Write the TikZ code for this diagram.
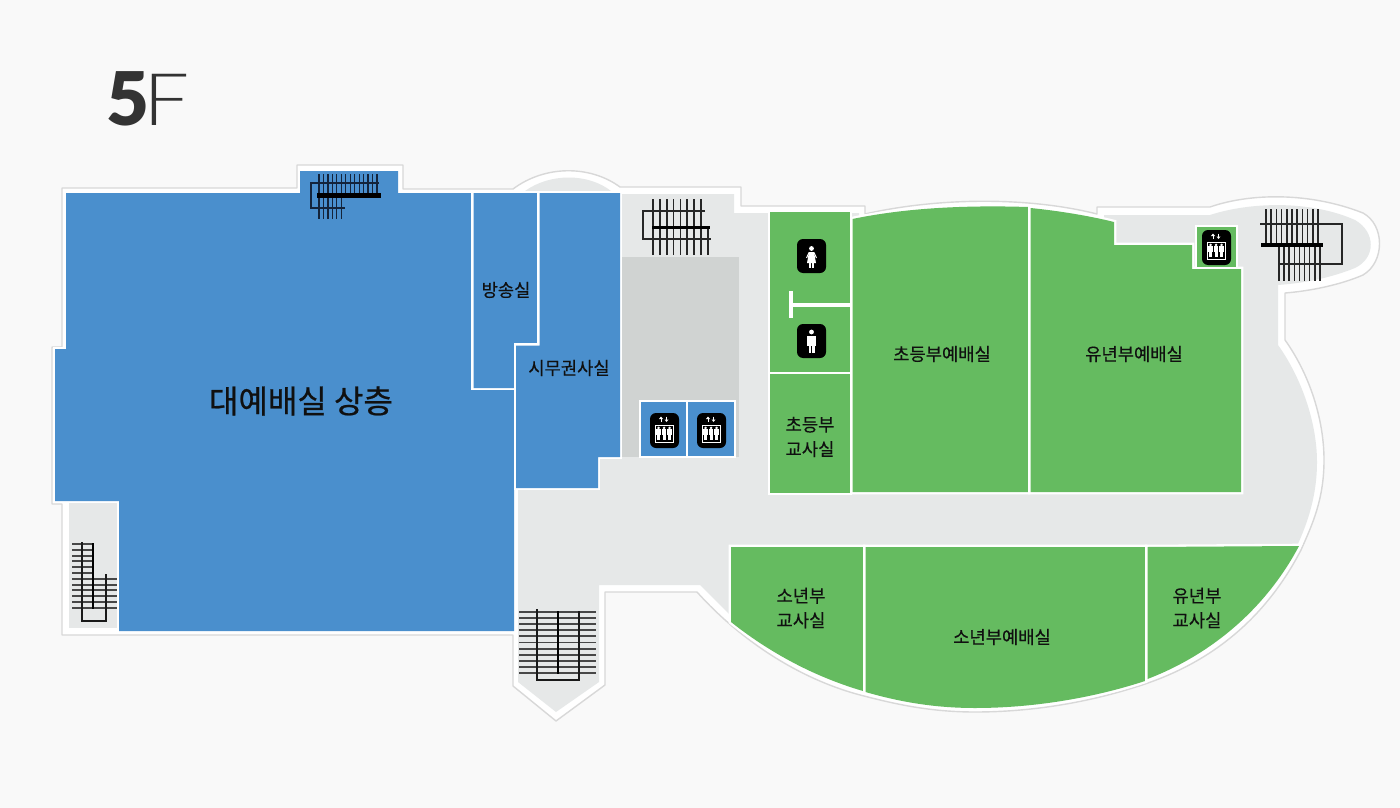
\documentclass[tikz,border=0pt]{standalone}
\usepackage{fontspec}
\newfontfamily\kr{Noto Sans CJK KR}[FakeBold=0.25]
\newfontfamily\krbig{Noto Sans CJK KR}[FakeBold=0.7]
\newfontfamily\numfont{Lato}[BoldFont=* Black]
\newfontfamily\thinfont{Poppins}[UprightFont=* ExtraLight,FakeStretch=1.3]
\definecolor{pagebg}{HTML}{F9F9F9}
\definecolor{rim}{HTML}{D8D8D8}
\definecolor{floorc}{HTML}{E6E8E8}
\definecolor{shaft}{HTML}{D0D3D2}
\definecolor{bluec}{HTML}{4A8FCD}
\definecolor{greenc}{HTML}{65BB60}
\definecolor{inkc}{HTML}{101010}
\definecolor{navy}{HTML}{14243A}
\definecolor{titlec}{HTML}{333333}
\tikzset{
  bluer/.style={fill=bluec,preaction={draw=white,line width=4.6pt}},
  greenr/.style={fill=greenc,preaction={draw=white,line width=4.6pt}},
  lbl/.style={inner sep=0pt,align=center,text=inkc,font=\kr\fontsize{17.7}{24.5}\selectfont},
  st/.style={draw=black!85,line width=1.6pt},
  sth/.style={draw=black!72,line width=1.9pt},
  sthin/.style={draw=navy,line width=1.2pt},
  icon/.style={fill=black,rounded corners=6pt},
}
\newcommand{\evicon}[2]{%
 \begin{scope}[shift={(#1,#2)}]
  \fill[icon] (-14.5,-17.5) rectangle (14.5,17.5);
  \draw[white,line width=1pt] (-9.5,-5.5) rectangle (8.5,11.5);
  \draw[white,line width=1pt] (-3.5,-8.5) -- (-3.5,-12);
  \fill[white] (-5.5,-11.5) -- (-3.5,-14) -- (-1.5,-11.5) -- cycle;
  \draw[white,line width=1pt] (2,-14) -- (2,-10.5);
  \fill[white] (0,-11) -- (2,-8.5) -- (4,-11) -- cycle;
  \foreach \p in {-6,-0.5,5}{
    \fill[white] (\p,-2.6) circle (1.4);
    \fill[white] (\p-2.3,-1.3) rectangle (\p+2.3,4);
    \fill[white] (\p-1.5,4) rectangle (\p+1.5,9);
  }
 \end{scope}}
\begin{document}
\begin{tikzpicture}[x=1pt,y=-1pt]
\useasboundingbox (0,0) rectangle (1400,808);
\fill[pagebg] (0,0) rectangle (1400,808);
% outer rim
\draw[rim,fill=white,line width=1.4pt,line join=round]
 (62,188) -- (297,188) -- (297,165) -- (403,165) -- (403,189) -- (513,189)
 .. controls (545,165) and (590,165) .. (620,187)
 -- (741,187) -- (741,206) -- (865,206) -- (865,214)
 .. controls (940,197) and (1030,197) .. (1097,214) -- (1097,207) -- (1210,207)
 .. controls (1250,193) and (1310,192) .. (1363,213)
 .. controls (1385,225) and (1385,262) .. (1363,275)
 .. controls (1340,285) and (1310,291) .. (1285,293)
 -- (1285,340)
 .. controls (1310,375) and (1324,420) .. (1324,460)
 .. controls (1324,500) and (1312,525) .. (1301,550)
 .. controls (1262,625) and (1205,663) .. (1148,683)
 .. controls (1090,703) and (1030,712) .. (975,712)
 .. controls (930,712) and (895,704) .. (864,696)
 .. controls (800,680) and (740,640) .. (697,592)
 -- (605,592) -- (605,685) -- (556,721) -- (513,686) -- (513,635) -- (62,635)
 -- (62,504) -- (52,504) -- (52,347) -- (62,347) -- cycle;
% floor
\fill[floorc]
 (620,194) -- (734,194) -- (734,213) -- (859,213) -- (859,217) -- (1104,217) -- (1104,215) -- (1210,215)
 .. controls (1250,202) and (1310,200) .. (1355,220)
 .. controls (1376,232) and (1376,258) .. (1355,268)
 .. controls (1330,278) and (1305,283) .. (1278,285)
 -- (1278,345)
 .. controls (1303,380) and (1317,425) .. (1317,462)
 .. controls (1317,495) and (1308,522) .. (1297,546)
 -- (730,546) -- (730,615) -- (700,585) -- (599,585) -- (599,682) -- (556,712) -- (518,682) -- (518,400) -- (620,400) -- cycle;
\fill[floorc] (525,191) .. controls (550,173) and (588,173) .. (611,191) -- cycle;
\fill[floorc] (69,503) rectangle (117,628);
% lift shaft
\fill[shaft] (622,257) rectangle (739,457);
% blue rooms
\path[bluer] (66,193) -- (300,193) -- (300,171) -- (398,171) -- (398,193) -- (471,193) -- (471,390) -- (514,390) -- (514,631) -- (119,631) -- (119,501) -- (55,501) -- (55,349) -- (66,349) -- cycle;
\path[bluer] (473.5,193) -- (537,193) -- (537,343) -- (515,343) -- (515,388) -- (473.5,388) -- cycle;
\path[bluer] (539.5,193) -- (620,193) -- (620,457) -- (598,457) -- (598,488) -- (516,488) -- (516,345.5) -- (539.5,345.5) -- cycle;
\path[bluer] (641,402) rectangle (686,456);
\path[bluer] (688,402) rectangle (734,456);
% green rooms
\path[greenr] (770,212) rectangle (850,371.5);
\path[greenr] (770,374) rectangle (850,493);
\path[greenr] (852.5,219) .. controls (905,208) and (965,205) .. (1028,207) -- (1028,492) -- (852.5,492) -- cycle;
\path[greenr] (1030.5,208) .. controls (1060,211) and (1090,216) .. (1114,222) -- (1114,245) -- (1192,245) -- (1192,269) -- (1241,269) -- (1241,492) -- (1030.5,492) -- cycle;
\path[greenr] (1197,227) rectangle (1236,267);
\path[greenr] (731,547) -- (863,547) -- (863,691) .. controls (815,677) and (770,653) .. (731,622) -- cycle;
\path[greenr] (865.5,547) -- (1145,547) -- (1145,681) .. controls (1090,699) and (1030,708) .. (975,708) .. controls (935,708) and (900,702) .. (865.5,692) -- cycle;
\path[greenr] (1147.5,547) -- (1299,546) .. controls (1265,610) and (1210,655) .. (1147.5,679) -- cycle;
% T wall
\fill[white] (789,291) rectangle (793,318);
\fill[white] (791,303) rectangle (851,307);
% stair top hall
\foreach \i in {0,...,13} \draw[sthin] ({319+\i*4.46},174) -- ({319+\i*4.46},193);
\foreach \i in {0,...,5} \draw[sthin] ({319+\i*4.46},198) -- ({319+\i*4.46},219);
\draw[sthin] (379,183) -- (311,183) -- (311,208) -- (345,208);
\draw[black,line width=5pt] (317,195) -- (381,195);
% stair upper centre
\foreach \i in {0,...,7} \draw[st] ({653+\i*6.85},199) -- ({653+\i*6.85},227);
\foreach \i in {0,...,8} \draw[st] ({653+\i*6.85},227) -- ({653+\i*6.85},255);
\draw[st,line width=1.1pt] (705,211) -- (643,211) -- (643,239) -- (711,239);
\draw[black,line width=3pt] (652,227) -- (710,227);
% stair right
\foreach \i in {0,...,10} \draw[st] ({1266+\i*5.2},209) -- ({1266+\i*5.2},245);
\foreach \i in {0,...,8} \draw[st] ({1279+\i*5.1},246) -- ({1279+\i*5.1},281);
\draw[st,line width=1.1pt] (1260,224) -- (1342,224) -- (1342,264) -- (1278,264);
\draw[black,line width=4pt] (1261,245) -- (1323,245);
% stair lower left
\foreach \i in {0,...,5} \draw[sth] (72,{544+\i*5.8}) -- (93,{544+\i*5.8});
\foreach \i in {6,...,11} \draw[sth] (72,{544+\i*5.8}) -- (117,{544+\i*5.8});
\draw[black!90,line width=1.1pt] (82,542) -- (82,621) -- (106,621) -- (106,574);
\draw[black,line width=2.5pt] (93,543) -- (93,609);
% stair bottom centre
\foreach \i in {0,...,10} \draw[sth] (519,{612+\i*6.1}) -- (596,{612+\i*6.1});
\draw[black!90,line width=1.1pt] (537,609) -- (537,680) -- (579,680) -- (579,611);
\draw[black,line width=2pt] (558,611) -- (558,674);
% icons
\evicon{664.5}{430.5}
\evicon{711.5}{430.5}
\evicon{1216.5}{247.5}
\fill[icon] (797,239) rectangle (826,273);
\fill[white] (811.5,248.5) circle (2.4);
\fill[white] (809,252) -- (814,252) -- (816,263) -- (807,263) -- cycle;
\fill[white] (809,263) rectangle (811,267.5);
\fill[white] (812,263) rectangle (814,267.5);
\draw[white,line width=1pt] (809,252.5) -- (806.5,258);
\draw[white,line width=1pt] (814,252.5) -- (816.5,258);
\fill[icon] (797,324) rectangle (826,358);
\fill[white] (811.5,332) circle (2.4);
\fill[white] (807,335.5) rectangle (816,346);
\fill[white] (808.5,346) rectangle (811,352.5);
\fill[white] (812,346) rectangle (814.5,352.5);
% title
\node[inner sep=0pt,text=titlec,anchor=base west] (title5) at (106,125) {\numfont\bfseries\fontsize{74}{74}\selectfont 5};
\node[inner sep=0pt,text=titlec,anchor=base west] (titleF) at (144,125) {\thinfont\fontsize{73}{73}\selectfont F};
% labels
\node[lbl,font=\krbig\fontsize{32}{36}\selectfont] (hall) at (301,401) {대예배실 상층};
\node[lbl] (broad) at (506,290) {방송실};
\node[lbl] (office) at (569,368) {시무권사실};
\node[lbl] (elemhall) at (942,354) {초등부예배실};
\node[lbl] (kinderhall) at (1134,354) {유년부예배실};
\node[lbl] (elemt) at (810,437) {초등부\\교사실};
\node[lbl] (youtht) at (801,608) {소년부\\교사실};
\node[lbl] (youthhall) at (1002,637) {소년부예배실};
\node[lbl] (kindert) at (1197,608) {유년부\\교사실};
\end{tikzpicture}
\end{document}
